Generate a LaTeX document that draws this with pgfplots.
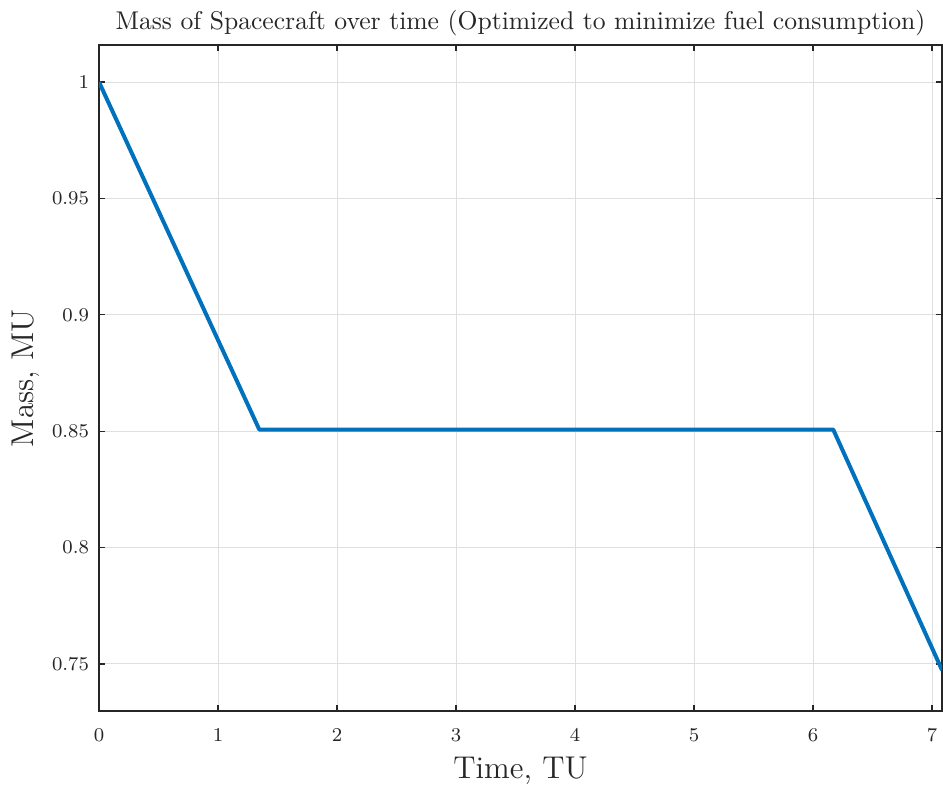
\documentclass[border=0pt]{standalone}
\usepackage{pgfplots}
\pgfplotsset{compat=1.18}
\definecolor{mblue}{RGB}{0,114,189}
\definecolor{axgray}{RGB}{38,38,38}
\definecolor{gridgray}{RGB}{223,223,223}
\begin{document}
\begin{tikzpicture}
\begin{axis}[name=ax,
  scale only axis,
  width=337.2pt, height=266.4pt,
  xmin=0, xmax=7.084, ymin=0.7298, ymax=1.0159,
  xtick={0,1,2,3,4,5,6,7},
  ytick={0.75,0.8,0.85,0.9,0.95,1},
  yticklabels={0.75,0.8,0.85,0.9,0.95,1},
  xticklabels={0,1,2,3,4,5,6,7},
  tick pos=both, tick align=inside,
  major tick length=2.4pt,
  every tick/.style={axgray, line width=0.5pt},
  axis line style={axgray, line width=0.5pt},
  grid=major,
  major grid style={gridgray, line width=0.4pt},
  tick label style={font=\fontsize{7.8}{8}\selectfont, text=axgray},
  xticklabel style={yshift=-3.5pt},
  yticklabel style={xshift=-0.5pt},
  title={Mass of Spacecraft over time (Optimized to minimize fuel consumption)},
  title style={font=\fontsize{10.25}{12}\selectfont, text=axgray, yshift=-5.8pt},
  xlabel={Time, TU},
  ylabel={Mass, MU},
  label style={font=\fontsize{12.6}{14}\selectfont, text=axgray},
  xlabel style={yshift=0.8pt},
  ylabel style={yshift=-2pt},
]
\addplot[mblue, line width=1.6pt, line join=round] coordinates {
  (0,1.0) (1.347,0.8507) (6.17,0.8507) (7.084,0.7474)
};
\end{axis}
\pgfresetboundingbox
\path ([shift={(-39.6pt,-31.2pt)}]ax.south west) rectangle ([shift={(0.4pt,18pt)}]ax.north east);
\end{tikzpicture}
\end{document}
